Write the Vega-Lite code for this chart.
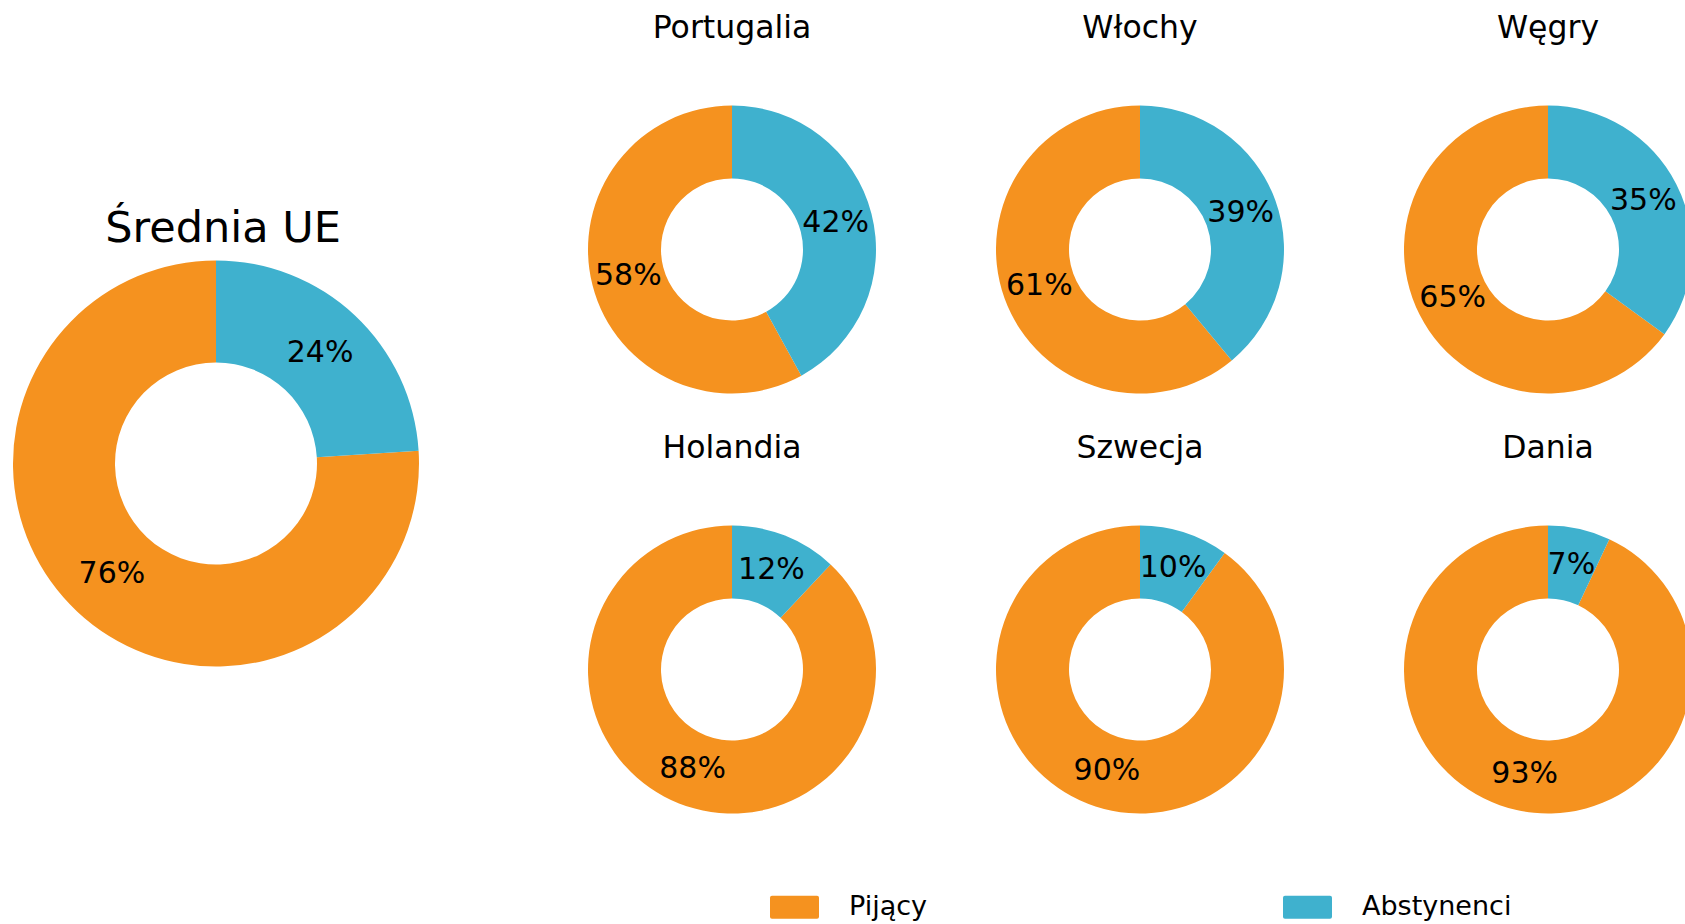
{
  "$schema": "https://vega.github.io/schema/vega-lite/v6.json",
  "padding": {"left": 5, "right": 5, "top": 12.5, "bottom": 5},
  "background": "white",
  "datasets": {
    "drinkers": [
      {"country": "Średnia UE", "group": "Pijący", "value": 0.76},
      {"country": "Średnia UE", "group": "Abstynenci", "value": 0.24},
      {"country": "Portugalia", "group": "Pijący", "value": 0.58},
      {"country": "Portugalia", "group": "Abstynenci", "value": 0.42},
      {"country": "Włochy", "group": "Pijący", "value": 0.61},
      {"country": "Włochy", "group": "Abstynenci", "value": 0.39},
      {"country": "Węgry", "group": "Pijący", "value": 0.65},
      {"country": "Węgry", "group": "Abstynenci", "value": 0.35},
      {"country": "Holandia", "group": "Pijący", "value": 0.88},
      {"country": "Holandia", "group": "Abstynenci", "value": 0.12},
      {"country": "Szwecja", "group": "Pijący", "value": 0.90},
      {"country": "Szwecja", "group": "Abstynenci", "value": 0.10},
      {"country": "Dania", "group": "Pijący", "value": 0.93},
      {"country": "Dania", "group": "Abstynenci", "value": 0.07}
    ]
  },
  "data": {"name": "drinkers"},
  "hconcat": [
    {
      "title": {"text": "Średnia UE", "fontSize": 43, "font": "DejaVu Sans", "fontWeight": "normal", "color": "black", "dy": 149, "dx": 7},
      "width": 422,
      "height": 716,
      "transform": [{"filter": "datum.country === 'Średnia UE'"}],
      "layer": [
        {
          "mark": {"type": "arc", "outerRadius": 203, "innerRadius": 101},
          "encoding": {
            "theta": {"field": "value", "type": "quantitative", "stack": true},
            "order": {"field": "group", "type": "ordinal", "sort": "ascending"},
            "color": {"field": "group", "type": "nominal", "scale": {"domain": ["Pijący", "Abstynenci"], "range": ["#F5921F", "#3FB1CE"]}}
          }
        },
        {
          "mark": {"type": "text", "radius": 152, "fontSize": 30, "font": "DejaVu Sans", "color": "black"},
          "encoding": {
            "theta": {"field": "value", "type": "quantitative", "stack": true},
            "order": {"field": "group", "type": "ordinal", "sort": "ascending"},
            "text": {"field": "value", "type": "quantitative", "format": ".0%"}
          }
        }
      ]
    },
    {
      "transform": [{"filter": "datum.country !== 'Średnia UE'"}],
      "facet": {
        "field": "country",
        "type": "nominal",
        "sort": ["Portugalia", "Włochy", "Węgry", "Holandia", "Szwecja", "Dania"],
        "header": {"title": null, "labelFontSize": 31.5, "labelFont": "DejaVu Sans", "labelColor": "black", "labelPadding": 61.5}
      },
      "columns": 3,
      "spacing": {"column": 120, "row": 39},
      "spec": {
        "width": 288,
        "height": 288,
        "layer": [
          {
            "mark": {"type": "arc", "outerRadius": 144, "innerRadius": 71},
            "encoding": {
              "theta": {"field": "value", "type": "quantitative", "stack": true},
              "order": {"field": "group", "type": "ordinal", "sort": "ascending"},
              "color": {"field": "group", "type": "nominal", "scale": {"domain": ["Pijący", "Abstynenci"], "range": ["#F5921F", "#3FB1CE"]}}
            }
          },
          {
            "mark": {"type": "text", "radius": 107, "fontSize": 30, "font": "DejaVu Sans", "color": "black"},
            "encoding": {
              "theta": {"field": "value", "type": "quantitative", "stack": true},
              "order": {"field": "group", "type": "ordinal", "sort": "ascending"},
              "text": {"field": "value", "type": "quantitative", "format": ".0%"}
            }
          }
        ]
      }
    }
  ],
  "spacing": 161,
  "resolve": {"scale": {"color": "shared"}},
  "config": {
    "font": "DejaVu Sans",
    "view": {"stroke": null},
    "legend": {
      "orient": "none",
      "legendX": 765,
      "legendY": 777,
      "direction": "horizontal",
      "title": null,
      "symbolType": "M-0.92,-0.47L0.92,-0.47Q1,-0.47 1,-0.39L1,0.39Q1,0.47 0.92,0.47L-0.92,0.47Q-1,0.47 -1,0.39L-1,-0.39Q-1,-0.47 -0.92,-0.47Z",
      "symbolSize": 2401,
      "symbolStrokeWidth": 0,
      "symbolOpacity": 1,
      "labelFontSize": 27,
      "labelFont": "DejaVu Sans",
      "labelColor": "black",
      "labelOffset": 30,
      "columnPadding": 355,
      "labelLimit": 400
    }
  }
}
